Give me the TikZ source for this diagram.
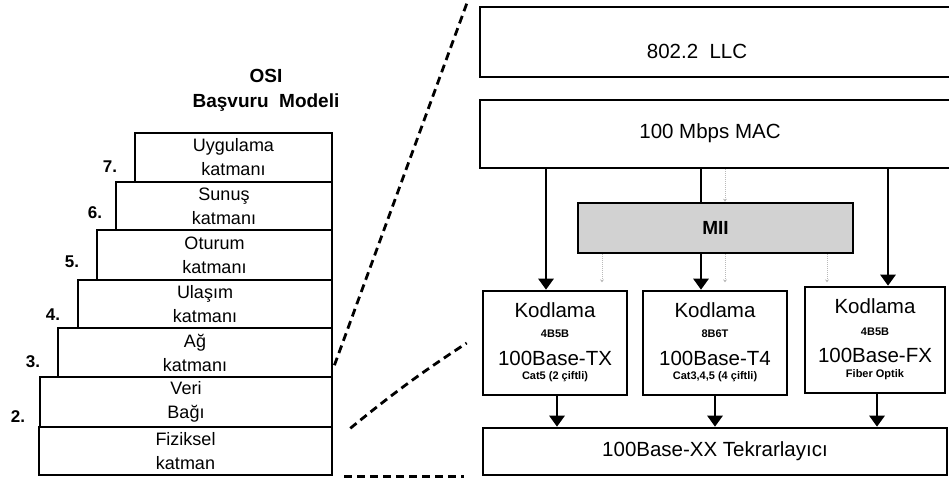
\documentclass[tikz,border=0pt]{standalone}
\usepackage{fontspec}
\setmainfont{Liberation Sans}
\usetikzlibrary{arrows.meta}

\tikzset{
  layer/.style={draw, line width=2.6pt, inner sep=0pt, align=center,
    font=\fontsize{18}{24}\selectfont},
  num/.style={font=\bfseries\fontsize{17}{18}\selectfont},
  box/.style={draw, line width=2.6pt, inner sep=0pt},
  big/.style={font=\fontsize{20.5}{22}\selectfont},
  small/.style={font=\bfseries\fontsize{11}{13}\selectfont},
  arr/.style={line width=2.8pt, -{Triangle[width=15pt,length=11pt]}},
  faint/.style={gray!55, line width=1pt, densely dotted, -{Stealth[length=3pt,width=4pt]}},
  zoomline/.style={line width=2.8pt, dash pattern=on 8pt off 5pt}
}

\begin{document}
\begin{tikzpicture}[x=1pt, y=-1pt]
    \useasboundingbox (0,0) rectangle (949,480);
    \clip (0,0) rectangle (949,480);

    % OSI stack
    \node[font=\bfseries\fontsize{19}{25}\selectfont, align=center] (title) at (266,90) {OSI\\Başvuru~~Modeli};

    \node[layer, minimum width=197, minimum height=49] (l7) at (233.5,157.5) {Uygulama\\katmanı};
    \node[layer, minimum width=216, minimum height=48] (l6) at (224,206) {Sunuş\\katmanı};
    \node[layer, minimum width=235, minimum height=50] (l5) at (214.5,255) {Oturum\\katmanı};
    \node[layer, minimum width=254, minimum height=48] (l4) at (205,304) {Ulaşım\\katmanı};
    \node[layer, minimum width=274, minimum height=49] (l3) at (195,352.5) {Ağ\\katmanı};
    \node[layer, minimum width=292, minimum height=50] (l2) at (186,402) {Veri\\Bağı};
    \node[layer, minimum width=293, minimum height=48] (l1) at (185.5,451) {Fiziksel\\katman};

    \node[num] (n7) at (110,167) {7.};
    \node[num] (n6) at (95,213) {6.};
    \node[num] (n5) at (72,262) {5.};
    \node[num] (n4) at (53,315) {4.};
    \node[num] (n3) at (33,362) {3.};
    \node[num] (n2) at (18,417) {2.};

    % Fast Ethernet
    \node[box, minimum width=480, minimum height=70] (llc) at (720,42) {};
    \node[big] (llctxt) at (697,51) {802.2~~LLC};
    \node[box, minimum width=480, minimum height=68] (mac) at (720,134) {};
    \node[big] (mactxt) at (710,133) {100 Mbps MAC};
    \node[box, fill=gray!35, minimum width=275, minimum height=50,
      font=\bfseries\fontsize{19}{20}\selectfont] (mii) at (715.5,228) {MII};

    \node[box, minimum width=144, minimum height=104] (k1) at (555,343) {};
    \node[box, minimum width=144, minimum height=104] (k2) at (715,343) {};
    \node[box, minimum width=140, minimum height=106] (k3) at (875,340) {};

    \node[big] (k1a) at ([yshift=-20pt]k1.north) {Kodlama};
    \node[small] (k1b) at ([yshift=-44pt]k1.north) {4B5B};
    \node[big] (k1c) at ([yshift=-69pt]k1.north) {100Base-TX};
    \node[small] (k1d) at ([yshift=-87pt]k1.north) {Cat5 (2 çiftli)};

    \node[big] (k2a) at ([yshift=-20pt]k2.north) {Kodlama};
    \node[small] (k2b) at ([yshift=-44pt]k2.north) {8B6T};
    \node[big] (k2c) at ([yshift=-69pt]k2.north) {100Base-T4};
    \node[small] (k2d) at ([yshift=-87pt]k2.north) {Cat3,4,5 (4 çiftli)};

    \node[big] (k3a) at ([yshift=-20pt]k3.north) {Kodlama};
    \node[small] (k3b) at ([yshift=-46pt]k3.north) {4B5B};
    \node[big] (k3c) at ([yshift=-70pt]k3.north) {100Base-FX};
    \node[small] (k3d) at ([yshift=-89pt]k3.north) {Fiber Optik};

    \node[box, minimum width=464, minimum height=47, big] (rep) at (715,451.5) {100Base-XX Tekrarlayıcı};

    \draw[arr] ([xshift=-9pt]k1.north |- mac.south) -- ([xshift=-9pt]k1.north);
    \draw[line width=2.8pt] ([xshift=-14.5pt]mii.north |- mac.south) -- ([xshift=-14.5pt]mii.north);
    \draw[arr] ([xshift=-14pt]k2.north |- mii.south) -- ([xshift=-14pt]k2.north);
    \draw[arr] ([xshift=13pt]k3.north |- mac.south) -- ([xshift=13pt]k3.north);

    \draw[arr] ([xshift=2pt]k1.south) -- ([xshift=2pt]k1.south |- rep.north);
    \draw[arr] (k2.south) -- (k2.south |- rep.north);
    \draw[arr] ([xshift=2pt]k3.south) -- ([xshift=2pt]k3.south |- rep.north);

    \draw[faint] ([xshift=9.5pt]mii.north |- mac.south) -- ([xshift=9.5pt]mii.north);
    \draw[faint] ([xshift=-113.5pt]mii.south) -- +(0,28);
    \draw[faint] ([xshift=9.5pt]mii.south) -- +(0,28);
    \draw[faint] ([xshift=111.5pt]mii.south) -- +(0,28);

    % zoom lines
    \draw[zoomline] ([shift={(-12pt,2pt)}]llc.north west) -- ([yshift=10pt]l3.south east);
    \draw[zoomline] ([xshift=17pt]l2.south east) to[bend left=3] ([xshift=-15pt]k1.west);
    \draw[zoomline] ([xshift=11pt]l1.south east) -- ([xshift=-18pt]rep.south west);
\end{tikzpicture}
\end{document}
